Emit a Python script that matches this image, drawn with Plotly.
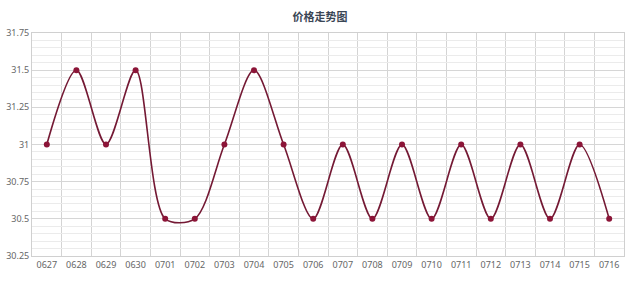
import plotly.graph_objects as go

dates = ["0627", "0628", "0629", "0630", "0701", "0702", "0703", "0704", "0705", "0706",
         "0707", "0708", "0709", "0710", "0711", "0712", "0713", "0714", "0715", "0716"]
prices = [31, 31.5, 31, 31.5, 30.5, 30.5, 31, 31.5, 31, 30.5,
          31, 30.5, 31, 30.5, 31, 30.5, 31, 30.5, 31, 30.5]
y_ticks = [30.25, 30.5, 30.75, 31, 31.25, 31.5, 31.75]
y_labels = ["30.25", "30.5", "30.75", "31", "31.25", "31.5", "31.75"]

idx = list(range(len(dates)))
bounds = [i - 0.5 for i in range(len(dates) + 1)]
minor_y = [round(30.25 + 0.05 * k, 2) for k in range(31)]

fig = go.Figure()
fig.add_trace(go.Scatter(
    x=idx, y=prices, mode="lines+markers",
    line=dict(color="#741934", width=1.6, shape="spline", smoothing=0.85),
    marker=dict(color="#8c1538", size=6),
    hoverinfo="skip",
))

fig.update_layout(
    width=640, height=281,
    margin=dict(l=32, r=16, t=33, b=25, autoexpand=False),
    paper_bgcolor="white", plot_bgcolor="white",
    showlegend=False,
    title=dict(text="<b>价格走势图</b>", x=0.5, xanchor="center", y=0.94, yanchor="middle",
               font=dict(family="Noto Sans CJK SC", size=11, color="#3a4655")),
    font=dict(family="Noto Sans, DejaVu Sans", size=9, color="#666666"),
)
fig.update_xaxes(
    range=[-0.5, len(dates) - 0.5], automargin=False,
    tickmode="array", tickvals=idx, ticktext=dates,
    showgrid=False, zeroline=False, ticks="",
    showline=True, linecolor="#d0d0d0", linewidth=1, mirror=True,
    tickfont=dict(size=9, color="#666666"),
    minor=dict(tickmode="array", tickvals=bounds, showgrid=True, gridcolor="#d4d4d4", gridwidth=1, ticks=""),
)
fig.update_yaxes(
    range=[30.25, 31.75], automargin=False,
    tickmode="array", tickvals=y_ticks, ticktext=y_labels,
    showgrid=True, gridcolor="#d6d6d6", gridwidth=1, zeroline=False, ticks="",
    showline=True, linecolor="#d0d0d0", linewidth=1, mirror=True,
    tickfont=dict(size=9, color="#666666"),
    minor=dict(tickmode="array", tickvals=minor_y, showgrid=True, gridcolor="#ebebeb", gridwidth=1, ticks=""),
)

fig.write_html("out.html")
